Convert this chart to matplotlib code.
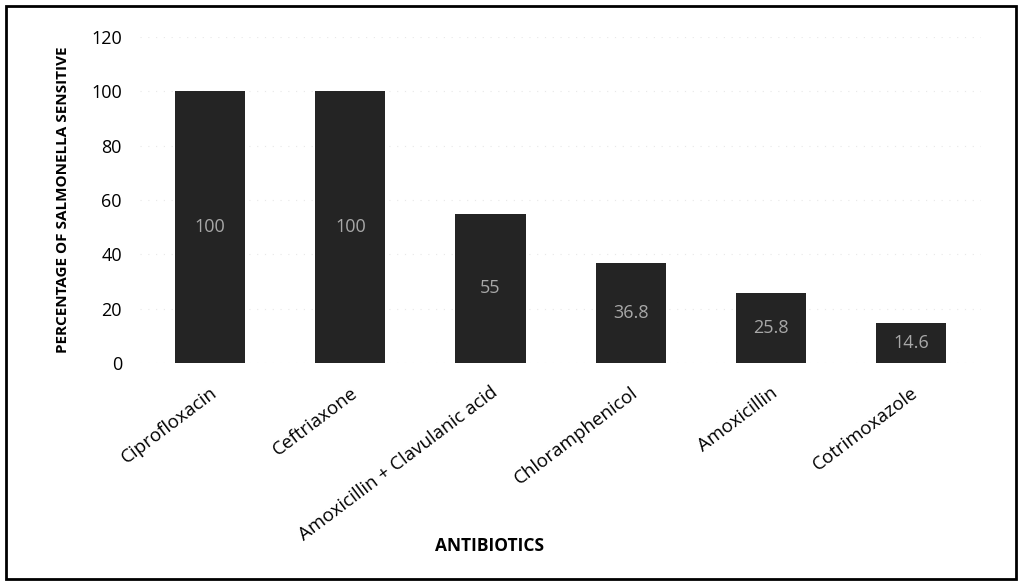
import matplotlib.pyplot as plt
import matplotlib.transforms as mtransforms
from matplotlib.patches import Rectangle

antibiotics = ["Ciprofloxacin", "Ceftriaxone", "Amoxicillin + Clavulanic acid",
               "Chloramphenicol", "Amoxicillin", "Cotrimoxazole"]
sensitive_pct = [100, 100, 55, 36.8, 25.8, 14.6]
value_labels = ["100", "100", "55", "36.8", "25.8", "14.6"]
yticks = [0, 20, 40, 60, 80, 100, 120]

plt.rcParams['font.family'] = ['Open Sans', 'DejaVu Sans']

fig = plt.figure(figsize=(10.22, 5.86), dpi=100)
ax = fig.add_axes([0.137, 0.3805, 0.823, 0.5564])

x = range(len(antibiotics))
bars = ax.bar(x, sensitive_pct, width=0.5, color="#242424", zorder=2)
ax.bar_label(bars, labels=value_labels, label_type="center",
             color="#a8a8a8", fontsize=13)

ax.set_xlim(-0.5, len(antibiotics) - 0.5)
ax.set_ylim(0, 120)
ax.set_yticks(yticks)
ax.tick_params(axis="y", length=0, labelsize=13, pad=13)
ax.tick_params(axis="x", length=0, labelsize=13.5, pad=20)
ax.set_xticks(list(x))
ax.set_xticklabels(antibiotics, rotation=37, ha="right", va="center",
                   rotation_mode="anchor")
shift = mtransforms.ScaledTranslation(5 / 100, 0, fig.dpi_scale_trans)
for lbl in ax.get_xticklabels():
    lbl.set_transform(lbl.get_transform() + shift)

ax.yaxis.grid(True, color="#e8e8e8", linestyle=(0, (1, 6)), linewidth=0.8, zorder=0)
for s in ax.spines.values():
    s.set_visible(False)

ax.set_ylabel("PERCENTAGE OF SALMONELLA SENSITIVE", fontsize=11, fontweight="bold")
ax.yaxis.set_label_coords(-0.083, 0.5)
ax.set_xlabel("ANTIBIOTICS", fontsize=12.5, fontweight="bold")
ax.xaxis.set_label_coords(0.416, -0.534)

fig.patches.append(Rectangle((0.006, 0.012), 0.988, 0.977, transform=fig.transFigure,
                             fill=False, edgecolor="black", linewidth=2))

fig.savefig("out.png", dpi=100)
